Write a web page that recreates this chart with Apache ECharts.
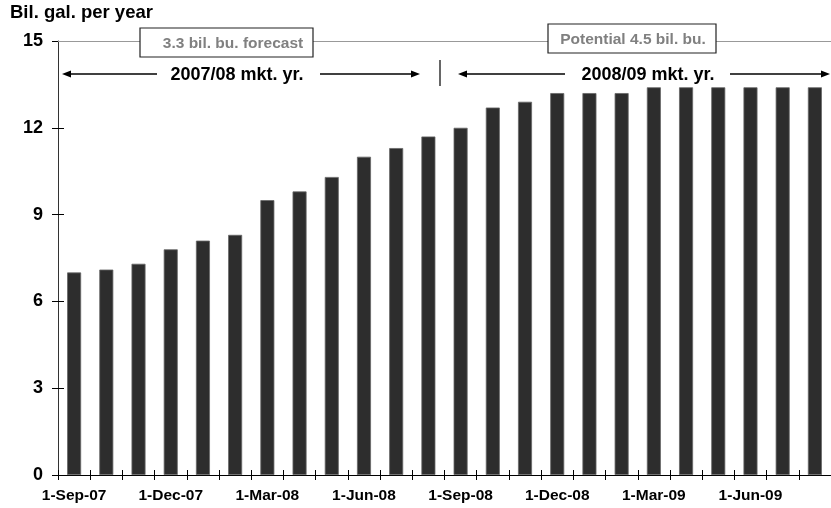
<!DOCTYPE html>
<html>
<head>
<meta charset="utf-8">
<script src="https://cdn.jsdelivr.net/npm/echarts@6/dist/echarts.min.js"></script>
<style>html,body{margin:0;padding:0;background:#fff}#c{width:831px;height:508px}</style>
</head>
<body>
<div id="c"></div>
<script>
const categories = ['1-Sep-07','1-Oct-07','1-Nov-07','1-Dec-07','1-Jan-08','1-Feb-08','1-Mar-08','1-Apr-08','1-May-08','1-Jun-08','1-Jul-08','1-Aug-08',
  '1-Sep-08','1-Oct-08','1-Nov-08','1-Dec-08','1-Jan-09','1-Feb-09','1-Mar-09','1-Apr-09','1-May-09','1-Jun-09','1-Jul-09','1-Aug-09'];
const values = [7.0, 7.1, 7.3, 7.8, 8.1, 8.3, 9.5, 9.8, 10.3, 11.0, 11.3, 11.7,
  12.0, 12.7, 12.9, 13.2, 13.2, 13.2, 13.4, 13.4, 13.4, 13.4, 13.4, 13.4];
const yTicks = [0, 3, 6, 9, 12, 15];
const capacityLine = 15;
const titleText = 'Bil. gal. per year';
const box1Text = '3.3 bil. bu. forecast';
const box2Text = 'Potential 4.5 bil. bu.';
const yr1Text = '2007/08 mkt. yr.';
const yr2Text = '2008/09 mkt. yr.';

const FONT = '"Liberation Sans", Arial, sans-serif';
const chart = echarts.init(document.getElementById('c'), null, {renderer: 'canvas'});

function arrowHead(tipX, y, dir) {
  return {type: 'polygon', z: 100, shape: {points: [[tipX, y], [tipX - dir * 9, y - 3.5], [tipX - dir * 9, y + 3.5]]}, style: {fill: '#000'}};
}
function hline(x1, x2, y) {
  return {type: 'line', z: 100, shape: {x1: x1, y1: y, x2: x2, y2: y}, style: {stroke: '#000', lineWidth: 1.5}};
}
function box(x, y, w, h, text, tx) {
  return [
    {type: 'rect', z: 100, shape: {x: x, y: y, width: w, height: h}, style: {fill: '#fff', stroke: '#222', lineWidth: 1.2}},
    {type: 'text', z: 101, style: {x: tx, y: y + h / 2 + 1, text: text, fill: '#808080', font: 'bold 15.5px ' + FONT, align: 'center', verticalAlign: 'middle'}}
  ];
}

chart.setOption({
  animation: false,
  backgroundColor: '#fff',
  grid: {left: 58, top: 41, bottom: 33, width: 780.5, containLabel: false},
  xAxis: [{
    type: 'category', data: categories, position: 'bottom',
    axisLine: {lineStyle: {color: '#000', width: 1}},
    axisTick: {show: true, interval: 0, length: 5, lineStyle: {color: '#000', width: 1}},
    axisLabel: {interval: 2, margin: 13, color: '#000', fontWeight: 'bold', fontSize: 15.5, fontFamily: FONT},
    splitLine: {show: false}
  }, {
    type: 'category', data: categories, position: 'bottom',
    axisLine: {show: false},
    axisTick: {show: true, inside: true, interval: 0, length: 5, lineStyle: {color: '#000', width: 1}},
    axisLabel: {show: false},
    splitLine: {show: false}
  }],
  yAxis: [{
    type: 'value', min: 0, max: 15, interval: 3, position: 'left',
    axisLine: {show: true, lineStyle: {color: '#333', width: 1}},
    axisTick: {show: true, length: 6, lineStyle: {color: '#000', width: 1}},
    axisLabel: {margin: 15, color: '#000', fontWeight: 'bold', fontSize: 18, fontFamily: FONT,
      formatter: v => yTicks.includes(v) ? String(v) : ''},
    splitLine: {show: false}
  }, {
    type: 'value', min: 0, max: 15, interval: 3, position: 'left',
    axisLine: {show: false},
    axisTick: {show: true, inside: true, length: 6, lineStyle: {color: '#000', width: 1}},
    axisLabel: {show: false},
    splitLine: {show: false}
  }],
  series: [{
    type: 'bar', data: values, xAxisIndex: 0, yAxisIndex: 0,
    barWidth: 14,
    itemStyle: {color: '#2d2d2d', borderColor: '#666', borderWidth: 0.8},
    markLine: {
      silent: true, symbol: 'none', label: {show: false}, z: 1,
      lineStyle: {color: '#999', width: 1.2, type: 'solid'},
      data: [{yAxis: capacityLine}]
    }
  }],
  graphic: [
    {type: 'text', left: 10, top: 3, style: {text: titleText, fill: '#000', font: 'bold 18.5px ' + FONT}},
    ...box(140, 28, 173, 29, box1Text, 233),
    ...box(548, 24, 168, 29, box2Text, 633),
    arrowHead(62, 74, -1), hline(68, 157, 74),
    hline(320, 413, 74), arrowHead(420, 74, 1),
    {type: 'text', z: 100, style: {x: 237, y: 75, text: yr1Text, fill: '#000', font: 'bold 18px ' + FONT, align: 'center', verticalAlign: 'middle'}},
    {type: 'line', z: 100, shape: {x1: 440, y1: 60, x2: 440, y2: 86}, style: {stroke: '#000', lineWidth: 1.2}},
    arrowHead(458, 74, -1), hline(464, 565, 74),
    hline(730, 823, 74), arrowHead(830, 74, 1),
    {type: 'text', z: 100, style: {x: 648, y: 75, text: yr2Text, fill: '#000', font: 'bold 18px ' + FONT, align: 'center', verticalAlign: 'middle'}}
  ]
});
</script>
</body>
</html>
